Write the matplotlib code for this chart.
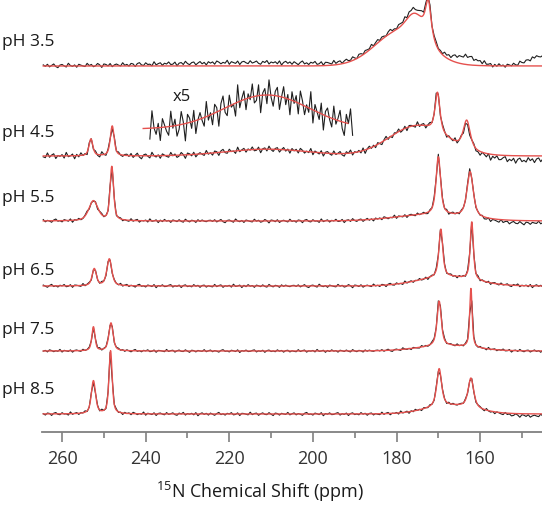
import numpy as np
import matplotlib
matplotlib.use("Agg")
import matplotlib.pyplot as plt
from matplotlib.ticker import MultipleLocator

plt.rcParams['font.family'] = ['Open Sans', 'DejaVu Sans']
plt.rcParams['mathtext.fontset'] = 'custom'
plt.rcParams['mathtext.rm'] = 'Open Sans'

PH_LABELS = ["pH 3.5", "pH 4.5", "pH 5.5", "pH 6.5", "pH 7.5", "pH 8.5"]
TICKS = [260, 240, 220, 200, 180, 160]

# peaks: (center ppm, half width ppm, lorentzian fraction, fit height, observed height)
PEAKS_35 = [(179.0, 7.0, 0.0, 35, 36), (175.5, 2.3, 0.0, 20, 23), (172.4, 0.9, 1.0, 42, 44),
            (215.0, 25.0, 0.0, 0, 3.5), (163.5, 3.5, 0.0, 0, 8), (145.0, 4.0, 0.0, 0, 10)]
PEAKS_45 = [(253.1, 0.55, 0.6, 17, 17), (248.0, 0.55, 0.6, 30, 30), (211.0, 12.0, 0.0, 6.8, 6.8),
            (175.0, 8.0, 0.0, 30, 30), (170.2, 0.7, 0.7, 40, 42), (163.2, 1.0, 0.7, 29, 27),
            (150.0, 8.0, 0.0, 0, -4.5)]
PEAKS_55 = [(252.5, 1.3, 0.5, 20, 20), (248.1, 0.5, 0.6, 54, 54), (172.0, 10.0, 0.0, 6, 6),
            (170.0, 0.65, 0.7, 58, 60), (162.4, 0.9, 0.7, 46, 48), (150.0, 8.0, 0.0, 0, -2.5)]
PEAKS_65 = [(252.3, 0.6, 0.6, 17, 17), (248.7, 0.7, 0.6, 27, 27), (168.0, 8.0, 0.0, 9, 9),
            (169.4, 0.55, 0.7, 48, 50), (162.0, 0.45, 0.7, 58, 58)]
PEAKS_75 = [(252.5, 0.45, 0.6, 24, 24), (248.3, 0.6, 0.6, 28, 29), (168.0, 8.0, 0.0, 5, 5),
            (169.8, 0.6, 0.7, 45, 49), (162.2, 0.35, 0.7, 59, 60)]
PEAKS_85 = [(252.5, 0.6, 0.6, 33, 33), (248.4, 0.45, 0.6, 63, 63), (167.0, 7.0, 0.0, 8, 8),
            (169.8, 0.7, 0.7, 38, 38), (162.2, 0.8, 0.7, 30, 30), (148.0, 6.0, 0.0, 0, -2)]
ALL_PEAKS = [PEAKS_35, PEAKS_45, PEAKS_55, PEAKS_65, PEAKS_75, PEAKS_85]
NOISE_AMP = [2.6, 3.9, 2.2, 2.0, 1.7, 2.0]
NOISE_SHIFT = [0, 40, 80, 120, 160, 200]

# residual noise of the measured traces (arbitrary units, -9..9)
NOISE = [3, -2, 5, -4, 1, 6, -3, -7, 2, 4, -1, -5, 8, 0, -3, 2, -6, 4, 1, -2,
         -4, 7, -1, 3, -5, -2, 6, 1, -8, 4, 2, -3, 5, -6, 0, 3, -1, -4, 7, -2,
         1, -5, 4, 2, -7, 3, 6, -2, -4, 5, -1, 0, -6, 8, -3, 1, 4, -5, 2, -1,
         6, -3, -2, 5, -8, 1, 3, -4, 7, -1, -5, 2, 4, -6, 0, 5, -3, 2, -7, 4,
         -1, 3, -5, 6, 2, -4, 1, -2, 8, -6, 3, 0, -3, 5, -7, 2, 4, -1, -4, 6,
         -2, 1, 5, -3, -6, 4, 0, 7, -5, 2, -1, 3, -4, 6, -8, 1, 5, -2, 3, -5,
         4, -1, -6, 2, 7, -3, 1, -5, 3, 0, 6, -4, -2, 5, -7, 3, 2, -1, -4, 8,
         -3, 2, 4, -6, 1, 5, -2, -3, 6, -1, -7, 4, 2, -5, 3, 0, -2, 7, -4, 1,
         5, -4, 2, -1, -6, 3, 7, -2, 0, -5, 4, 1, -3, 6, -8, 2, -1, 5, -3, -2,
         3, 6, -5, 1, -2, 4, -7, 2, 5, -3, 0, -4, 6, -1, 3, -6, 2, 4, -5, 1,
         -2, -4, 7, -3, 2, 5, -6, 1, -1, 3, -5, 8, -2, 0, 4, -7, 3, -3, 6, -1,
         2, -6, 4, 1, -3, 5, -2, -5, 7, 0, -4, 3, 1, -6, 5, -2, 4, -1, -3, 2]

INSET_SCALE = 5
INSET_RANGE_BLACK = (239.4, 190.4)
INSET_RANGE_RED = (240.6, 191.6)

# ---- layout (figure pixels) ----
W, H = 542, 510
AX_LEFT, AX_BOTTOM_PX = 42, 433
OFFSETS = [366, 276, 211, 146, 81, 18]
INSET_OFFSET = 303
LABEL_Y = [42, 133, 198, 271, 330, 390]

RED = '#e5514e'
BLACK = '#1f1f1f'


def pv(x, c, w, eta, h):
    d = (x - c) / w
    return h * (eta / (1 + d * d) + (1 - eta) * np.exp(-np.log(2) * d * d))


def model(x, peaks, col):
    y = np.zeros_like(x)
    for p in peaks:
        y += pv(x, p[0], p[1], p[2], p[col])
    return y


x = np.linspace(264.5, 145.0, len(NOISE))
xf = np.linspace(264.5, 145.0, 2000)
noise = np.array(NOISE, dtype=float) / 9.0

fig = plt.figure(figsize=(W / 100, H / 100), dpi=100)
ax = fig.add_axes([AX_LEFT / W, (H - AX_BOTTOM_PX) / H, (W - AX_LEFT) / W, AX_BOTTOM_PX / H])
ax.set_xlim(264.8, 145.2)
ax.set_ylim(0, AX_BOTTOM_PX)

for i, peaks in enumerate(ALL_PEAKS):
    off = OFFSETS[i]
    obs = model(x, peaks, 4) + NOISE_AMP[i] * np.roll(noise, NOISE_SHIFT[i])
    fit = model(xf, peaks, 3)
    ax.plot(x, obs + off, color=BLACK, lw=0.8, clip_on=False, zorder=2)
    ax.plot(xf, fit + off, color=RED, lw=1.0, clip_on=False, zorder=3)
    fig.text(2 / W, 1 - LABEL_Y[i] / H, PH_LABELS[i], fontsize=12.5, ha='left', va='center',
             color='#1a1a1a')

# x5 inset of the broad pH 4.5 component
hump = [p for p in PEAKS_45 if p[0] == 211.0]
mb = (x <= INSET_RANGE_BLACK[0]) & (x >= INSET_RANGE_BLACK[1])
mr = (xf <= INSET_RANGE_RED[0]) & (xf >= INSET_RANGE_RED[1])
inset_obs = INSET_SCALE * (model(x, hump, 4) + NOISE_AMP[1] * np.roll(noise, NOISE_SHIFT[1]))
inset_fit = INSET_SCALE * model(xf, hump, 3)
ax.plot(x[mb], inset_obs[mb] + INSET_OFFSET, color=BLACK, lw=0.8, zorder=2)
ax.plot(xf[mr], inset_fit[mr] + INSET_OFFSET, color=RED, lw=1.0, zorder=3)
fig.text(173 / W, 1 - 97 / H, "x5", fontsize=12, ha='left', va='center', color='#1a1a1a')

for s in ['top', 'right', 'left']:
    ax.spines[s].set_visible(False)
ax.spines['bottom'].set_color('#808080')
ax.spines['bottom'].set_linewidth(1.3)
ax.set_yticks([])
ax.set_xticks(TICKS)
ax.xaxis.set_minor_locator(MultipleLocator(10))
ax.tick_params(axis='x', which='major', direction='out', length=7, width=1.2, color='#808080',
               labelsize=13, labelcolor='#333333', pad=5)
ax.tick_params(axis='x', which='minor', direction='out', length=4, width=1.2, color='#808080')
ax.patch.set_alpha(0)

fig.text(260 / W, 1 - 492 / H, r"$^{15}$N Chemical Shift (ppm)", fontsize=13, ha='center',
         va='center', color='#1a1a1a')

fig.savefig("out.png", dpi=100)
